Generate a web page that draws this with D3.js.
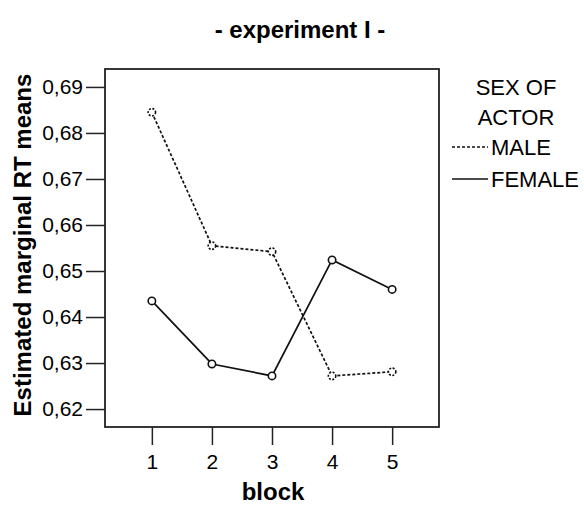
<!DOCTYPE html>
<html>
<head>
<meta charset="utf-8">
<script src="https://cdn.jsdelivr.net/npm/d3@7"></script>
<style>
  body { margin: 0; background: #fff; }
  svg { font-family: "Liberation Sans", Arial, sans-serif; }
</style>
</head>
<body>
<div id="chart"></div>
<script>
// datos
const blocks = [1, 2, 3, 4, 5];
const maleMeans = [0.6845, 0.6555, 0.6542, 0.6272, 0.6281];
const femaleMeans = [0.6435, 0.6298, 0.6272, 0.6524, 0.6460];
const yTicks = [0.62, 0.63, 0.64, 0.65, 0.66, 0.67, 0.68, 0.69];
const seriesNames = ['MALE', 'FEMALE'];

const width = 584, height = 505;
const frame = { left: 105, top: 69, right: 439, bottom: 427 };

const svg = d3.select('#chart')
    .append('svg')
    .attr('width', width)
    .attr('height', height);

const x = d3.scaleLinear()
    .domain([0.22, 5.78])
    .range([frame.left, frame.right]);

const y = d3.scaleLinear()
    .domain([0.6161, 0.6939])
    .range([frame.bottom, frame.top]);

// ejes
const yAxis = svg.append('g')
    .attr('transform', `translate(${frame.left},0)`)
    .call(d3.axisLeft(y)
        .tickValues(yTicks)
        .tickSize(19)
        .tickPadding(3)
        .tickFormat(d => d.toFixed(2).replace('.', ',')));

const xAxis = svg.append('g')
    .attr('transform', `translate(0,${frame.bottom})`)
    .call(d3.axisBottom(x)
        .tickValues(blocks)
        .tickSize(18)
        .tickPadding(9)
        .tickFormat(d3.format('d')));

[xAxis, yAxis].forEach(a => {
    a.select('.domain').remove();
    a.selectAll('line').attr('stroke', '#222').attr('stroke-width', 1.5);
    a.selectAll('text')
        .attr('fill', '#000')
        .style('font-size', '21px')
        .style('font-family', '"Liberation Sans", Arial, sans-serif');
});

// marco
svg.append('rect')
    .attr('x', frame.left)
    .attr('y', frame.top)
    .attr('width', frame.right - frame.left)
    .attr('height', frame.bottom - frame.top)
    .attr('fill', 'none')
    .attr('stroke', '#222')
    .attr('stroke-width', 1.8);

// lineas
const line = d3.line()
    .x((d, i) => x(blocks[i]))
    .y(d => y(d));

const series = [
    { name: 'MALE', values: maleMeans, dash: '3,2' },
    { name: 'FEMALE', values: femaleMeans, dash: null }
];

series.forEach(s => {
    svg.append('path')
        .datum(s.values)
        .attr('d', line)
        .attr('fill', 'none')
        .attr('stroke', '#111')
        .attr('stroke-width', 1.7)
        .attr('stroke-dasharray', s.dash);

    svg.append('g')
        .selectAll('circle')
        .data(s.values)
        .enter()
        .append('circle')
        .attr('cx', (d, i) => x(blocks[i]))
        .attr('cy', d => y(d))
        .attr('r', 3.7)
        .attr('fill', '#fff')
        .attr('stroke', '#111')
        .attr('stroke-width', 1.6)
        .attr('stroke-dasharray', s.dash ? '2,1.5' : null);
});

// titulos
svg.append('text')
    .attr('x', 300)
    .attr('y', 38)
    .attr('text-anchor', 'middle')
    .style('font-size', '24px')
    .style('font-weight', 'bold')
    .text('- experiment I -');

svg.append('text')
    .attr('x', (frame.left + frame.right) / 2 + 1)
    .attr('y', 500)
    .attr('text-anchor', 'middle')
    .style('font-size', '24px')
    .style('font-weight', 'bold')
    .text('block');

svg.append('text')
    .attr('transform', `translate(31,${(frame.top + frame.bottom) / 2 - 3}) rotate(-90)`)
    .attr('text-anchor', 'middle')
    .style('font-size', '24px')
    .style('font-weight', 'bold')
    .text('Estimated marginal RT means');

// leyenda
const legend = svg.append('g');
legend.append('text')
    .attr('x', 516).attr('y', 95)
    .attr('text-anchor', 'middle')
    .style('font-size', '22px')
    .text('SEX OF');
legend.append('text')
    .attr('x', 516).attr('y', 125)
    .attr('text-anchor', 'middle')
    .style('font-size', '22px')
    .text('ACTOR');

seriesNames.forEach((name, i) => {
    const yy = 147 + i * 32;
    legend.append('line')
        .attr('x1', 452).attr('x2', 488)
        .attr('y1', yy).attr('y2', yy)
        .attr('stroke', '#111')
        .attr('stroke-width', 1.5)
        .attr('stroke-dasharray', series[i].dash);
    legend.append('text')
        .attr('x', 491).attr('y', yy + 8)
        .style('font-size', '22px')
        .text(name);
});
</script>
</body>
</html>
